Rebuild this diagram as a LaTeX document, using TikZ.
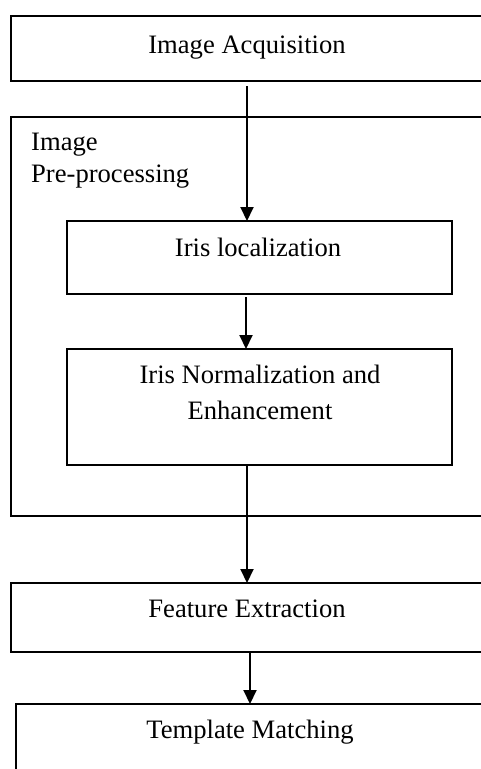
\documentclass[tikz,border=0pt]{standalone}
\usepackage{fontspec}
\setmainfont{Liberation Serif}
\usetikzlibrary{arrows.meta}
\begin{document}
\begin{tikzpicture}[x=1pt,y=1pt,
  box/.style={draw=black, line width=1.4pt, inner sep=0pt, outer sep=0pt, anchor=north west},
  lbl/.style={font=\fontsize{26.6}{32}\selectfont, inner sep=0pt, anchor=base},
  arr/.style={line width=2pt, -{Triangle[width=13pt,length=14pt]}}]
\useasboundingbox (0,0) rectangle (481,-769);
\clip (0,0) rectangle (481,-769);
\fill[white] (0,0) rectangle (481,-769);
% boxes
\node[box, minimum width=490pt, minimum height=65pt] (acq) at (11,-16) {};
\node[box, minimum width=490pt, minimum height=399pt] (pre) at (11,-117) {};
\node[box, minimum width=385pt, minimum height=73pt] (loc) at (67,-221) {};
\node[box, minimum width=385pt, minimum height=116pt] (norm) at (67,-349) {};
\node[box, minimum width=490pt, minimum height=69pt] (feat) at (11,-583) {};
\node[box, minimum width=490pt, minimum height=90pt] (tmpl) at (16,-704) {};
% texts
\node[lbl] (tacq) at (247,-53) {Image Acquisition};
\node[lbl, anchor=base west] (tpre1) at (31,-150) {Image};
\node[lbl, anchor=base west] (tpre2) at (31,-182) {Pre-processing};
\node[lbl] (tloc) at (258,-256) {Iris localization};
\node[lbl] (tnorm1) at (260,-383) {Iris Normalization and};
\node[lbl] (tnorm2) at (260,-419) {Enhancement};
\node[lbl] (tfeat) at (247,-617) {Feature Extraction};
\node[lbl] (ttmpl) at (250,-738) {Template Matching};
% arrow columns
\coordinate (c1) at (247,0);
\coordinate (c2) at (246,0);
\coordinate (c3) at (247,0);
\coordinate (c4) at (250,0);
\draw[arr, shorten <=5pt] (acq.south -| c1) -- (loc.north -| c1);
\draw[arr, shorten <=3pt] (loc.south -| c2) -- (norm.north -| c2);
\draw[arr] (norm.south -| c3) -- (feat.north -| c3);
\draw[arr] (feat.south -| c4) -- (tmpl.north -| c4);
\end{tikzpicture}
\end{document}
